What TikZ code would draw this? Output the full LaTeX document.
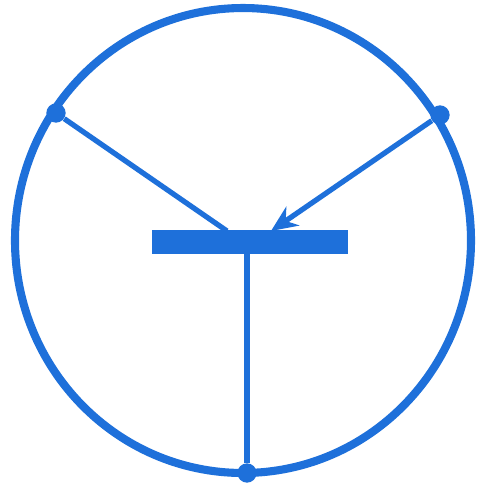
\documentclass[tikz,border=0pt]{standalone}
\definecolor{spokeblue}{RGB}{30,112,218}
\usepackage{tikz}
\usetikzlibrary{arrows.meta, positioning}

\begin{document}
\begin{tikzpicture}[x=0.02cm, y=-0.02cm,
		joint/.style={circle, fill=spokeblue, inner sep=0pt, minimum size=11pt},
		spoke/.style={spokeblue, line width=3pt},
		bar/.style={fill=spokeblue, inner sep=0pt, minimum width=3.92cm, minimum height=0.48cm}]
	\useasboundingbox (0,0) rectangle (485,488);
	% aro
	\draw[spokeblue, line width=4.6pt] (243,240.5) ellipse [x radius=228, y radius=232.5];
	% uniones
	\node[joint] (jl) at (56,113) {};
	\node[joint] (jr) at (440,115) {};
	\node[joint] (jb) at (247,473) {};
	% travesano
	\node[bar] (tb) at (250,242) {};
	\coordinate (tl) at (227,231);
	\coordinate (tr) at (271,231);
	\coordinate (tv) at (247,253);
	% radios
	\draw[spoke] (jl) -- (tl);
	\draw[spoke, -{Stealth[length=15pt, width=13pt]}] (jr) -- (tr);
	\draw[spoke, line width=3.4pt] (tv) -- (jb);
\end{tikzpicture}
\end{document}
